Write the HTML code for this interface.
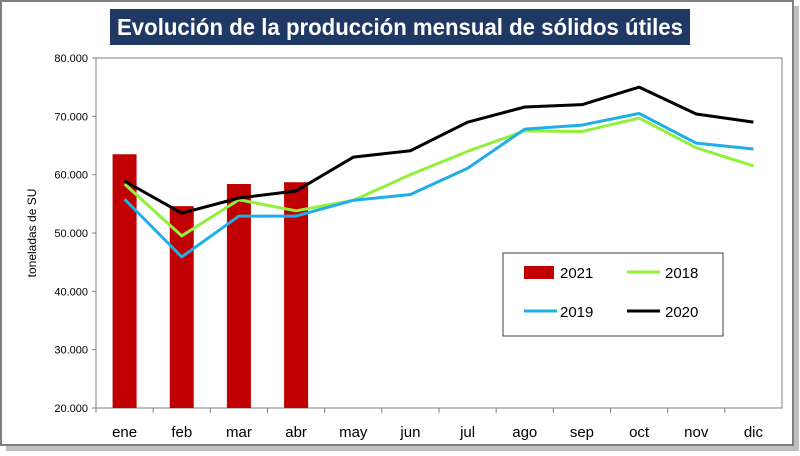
<!DOCTYPE html>
<html><head><meta charset="utf-8"><style>
body{margin:0;background:#fff;font-family:"Liberation Sans",sans-serif}
</style></head><body>
<svg width="800" height="451" viewBox="0 0 800 451" xmlns="http://www.w3.org/2000/svg" font-family="Liberation Sans, sans-serif">
<rect x="1" y="1" width="792" height="444" fill="#fff" stroke="#7f7f7f" stroke-width="2"/>
<rect x="794" y="6" width="5" height="442" fill="#bfbfbf"/>
<rect x="6" y="446" width="793" height="5" fill="#bfbfbf"/>
<rect x="110" y="9" width="580" height="36" fill="#1f3864"/>
<text x="400" y="35" text-anchor="middle" fill="#fff" font-size="23" font-weight="bold" textLength="566" lengthAdjust="spacingAndGlyphs">Evolución de la producción mensual de sólidos útiles</text>
<rect x="96" y="58" width="686" height="350" fill="#fff" stroke="#808080" stroke-width="1"/>
<text transform="translate(36,233) rotate(-90)" text-anchor="middle" font-size="12">toneladas de SU</text>
<g id="yt"></g><g id="xt"></g><g id="bars"></g><g id="lines"></g>
<g>
<rect x="503" y="253" width="220" height="83" fill="#fff" stroke="#404040" stroke-width="1"/>
<rect x="524" y="266" width="30" height="13" fill="#c00000"/>
<text x="560" y="278" font-size="15">2021</text>
<line x1="627" y1="272" x2="660" y2="272" stroke="#92f03c" stroke-width="3"/>
<text x="665" y="278" font-size="15">2018</text>
<line x1="524" y1="311" x2="557" y2="311" stroke="#1faee8" stroke-width="3"/>
<text x="560" y="317" font-size="15">2019</text>
<line x1="627" y1="311" x2="660" y2="311" stroke="#000" stroke-width="3"/>
<text x="665" y="317" font-size="15">2020</text>
</g>
</svg>
<script>
const categories=["ene","feb","mar","abr","may","jun","jul","ago","sep","oct","nov","dic"];
const s2021=[63.5,54.6,58.4,58.7];
const s2018=[58.4,49.5,55.7,53.8,55.6,60,64,67.5,67.4,69.7,64.6,61.5];
const s2019=[55.8,45.9,52.9,52.9,55.6,56.6,61.1,67.8,68.5,70.5,65.4,64.4];
const s2020=[58.9,53.4,56,57.2,63,64.1,69,71.6,72,75,70.4,69];
const yTicks=[20,30,40,50,60,70,80];
const yTickLabels=["20.000","30.000","40.000","50.000","60.000","70.000","80.000"];
const NS="http://www.w3.org/2000/svg";
const X0=96,W=686,Y0=408,H=350,YMIN=20,YMAX=80;
const xs=i=>X0+W/categories.length*(i+0.5);
const ys=v=>Y0-(v-YMIN)/(YMAX-YMIN)*H;
function mk(t,a,p){const e=document.createElementNS(NS,t);for(const k in a)e.setAttribute(k,a[k]);p.appendChild(e);return e;}
const yt=document.getElementById('yt');
yTicks.forEach((v,i)=>{
 const t=mk('text',{x:X0-8,y:ys(v)+4,'text-anchor':'end','font-size':11},yt);t.textContent=yTickLabels[i];
 
 
 const l=mk('line',{x1:X0-4,x2:X0,y1:ys(v),y2:ys(v),stroke:'#808080'},yt);
 
 
});
const xt=document.getElementById('xt');
categories.forEach((c,i)=>{
 const t=mk('text',{x:xs(i),y:437,'text-anchor':'middle','font-size':15},xt);t.textContent=c;
 
 
 const l=mk('line',{x1:X0+W/12*i,x2:X0+W/12*i,y1:Y0,y2:Y0+5,stroke:'#808080'},xt);
 
 
});
const bg=document.getElementById('bars');
s2021.forEach((v,i)=>{
 const r=mk('rect',{x:xs(i)-12,y:ys(v),width:24,height:Y0-ys(v),fill:'#c00000'},bg);
 
 
});
const lg=document.getElementById('lines');
[[s2018,'#92f03c','2018'],[s2019,'#1faee8','2019'],[s2020,'#000','2020']].forEach(([s,c,n])=>{
 const p=mk('polyline',{points:s.map((v,i)=>xs(i)+','+ys(v)).join(' '),fill:'none',stroke:c,'stroke-width':3,'stroke-linejoin':'round'},lg);
 
 
});
</script>
</body></html>
